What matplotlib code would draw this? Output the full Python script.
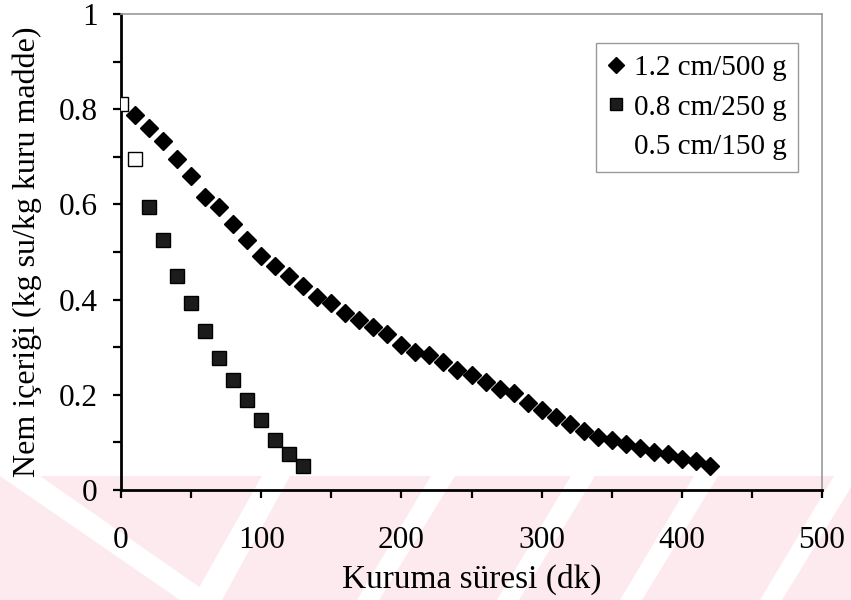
import matplotlib
matplotlib.use("Agg")
import matplotlib.pyplot as plt
from matplotlib.lines import Line2D
from matplotlib.patches import Polygon

# ---- data ----
t_12 = [10, 20, 30, 40, 50, 60, 70, 80, 90, 100, 110, 120, 130, 140, 150, 160, 170,
        180, 190, 200, 210, 220, 230, 240, 250, 260, 270, 280, 290, 300, 310, 320,
        330, 340, 350, 360, 370, 380, 390, 400, 410, 420]
m_12 = [0.788, 0.761, 0.733, 0.695, 0.660, 0.616, 0.594, 0.558, 0.525, 0.492, 0.471,
        0.450, 0.429, 0.406, 0.392, 0.371, 0.357, 0.342, 0.327, 0.305, 0.290, 0.284,
        0.268, 0.253, 0.242, 0.226, 0.212, 0.204, 0.182, 0.168, 0.154, 0.139, 0.125,
        0.111, 0.104, 0.096, 0.088, 0.080, 0.075, 0.066, 0.060, 0.051]

t_08 = [20, 30, 40, 50, 60, 70, 80, 90, 100, 110, 120, 130]
m_08 = [0.595, 0.525, 0.450, 0.392, 0.334, 0.277, 0.232, 0.190, 0.147, 0.104, 0.075, 0.050]

t_05 = [0, 10]
m_05 = [0.81, 0.695]

labels = ["1.2 cm/500 g", "0.8 cm/250 g", "0.5 cm/150 g"]
xticks = [0, 100, 200, 300, 400, 500]
yticks = [0, 0.2, 0.4, 0.6, 0.8, 1.0]
yticklabels = ["0", "0.2", "0.4", "0.6", "0.8", "1"]

plt.rcParams['font.family'] = ['Liberation Serif', 'DejaVu Serif']

fig = plt.figure(figsize=(8.51, 6.0), dpi=100)
W, H = 851.0, 600.0

# faint watermark drawn in a background axes (pixel coords, origin top-left)
bg = fig.add_axes([0, 0, 1, 1], zorder=-10)
bg.set_xlim(0, W)
bg.set_ylim(H, 0)
bg.axis('off')

def poly(pts, color):
    bg.add_patch(Polygon(pts, closed=True, facecolor=color, edgecolor='none'))

pink = '#fdeaee'
poly([(0, 476), (851, 476), (851, 600), (0, 600)], pink)
poly([(0, 476), (40, 476), (218, 600), (180, 600)], 'white')
poly([(262, 476), (290, 476), (222, 600), (192, 600)], 'white')
for x0 in [357, 497, 620, 760]:
    poly([(x0 + 74, 476), (x0 + 98, 476), (x0 + 22, 600), (x0, 600)], 'white')

ax = fig.add_axes([121 / W, 1 - 490 / H, (822 - 121) / W, (490 - 14) / H])
ax.patch.set_alpha(0)

ax.plot(t_12, m_12, linestyle='none', marker='D', markersize=9.5,
        color='black', markeredgecolor='black', zorder=3)
ax.plot(t_08, m_08, linestyle='none', marker='s', markersize=10.5,
        markerfacecolor='#1c1c1c', markeredgecolor='black', markeredgewidth=1.0, zorder=3)
ax.plot(t_05, m_05, linestyle='none', marker='s', markersize=10.5,
        markerfacecolor='white', markeredgecolor='black', markeredgewidth=1.0, zorder=4)

ax.set_xlim(0, 500)
ax.set_ylim(0, 1)
ax.set_xticks(xticks)
ax.set_xticks([50, 150, 250, 350, 450], minor=True)
ax.set_yticks(yticks)
ax.set_yticklabels(yticklabels)
ax.set_yticks([0.1, 0.3, 0.5, 0.7, 0.9], minor=True)

ax.tick_params(axis='both', which='both', direction='out', length=6, width=1.6,
               labelsize=22.5, color='black')
ax.tick_params(axis='x', which='both', pad=20)
ax.tick_params(axis='y', which='both', pad=11)

for s in ['left', 'bottom']:
    ax.spines[s].set_linewidth(2.0)
    ax.spines[s].set_color('black')
for s in ['top', 'right']:
    ax.spines[s].set_linewidth(1.2)
    ax.spines[s].set_color('#9a9a9a')

ax.set_xlabel("Kuruma süresi (dk)", fontsize=24, labelpad=6)
ax.set_ylabel("Nem içeriği (kg su/kg kuru madde)", fontsize=23, labelpad=12)

handles = [
    Line2D([], [], linestyle='none', marker='D', markersize=8, color='black'),
    Line2D([], [], linestyle='none', marker='s', markersize=9,
           markerfacecolor='#1c1c1c', markeredgecolor='black'),
    Line2D([], [], linestyle='none', marker='s', markersize=9,
           markerfacecolor='white', markeredgecolor='white'),
]
leg = ax.legend(handles, labels, loc='upper right', bbox_to_anchor=(0.966, 0.939),
                fontsize=21, frameon=True, fancybox=False, handlelength=0.6,
                handletextpad=0.3, borderpad=0.4, labelspacing=0.45, borderaxespad=0)
leg.get_frame().set_edgecolor('#808080')
leg.get_frame().set_linewidth(1.0)

fig.savefig("out.png", dpi=100)
